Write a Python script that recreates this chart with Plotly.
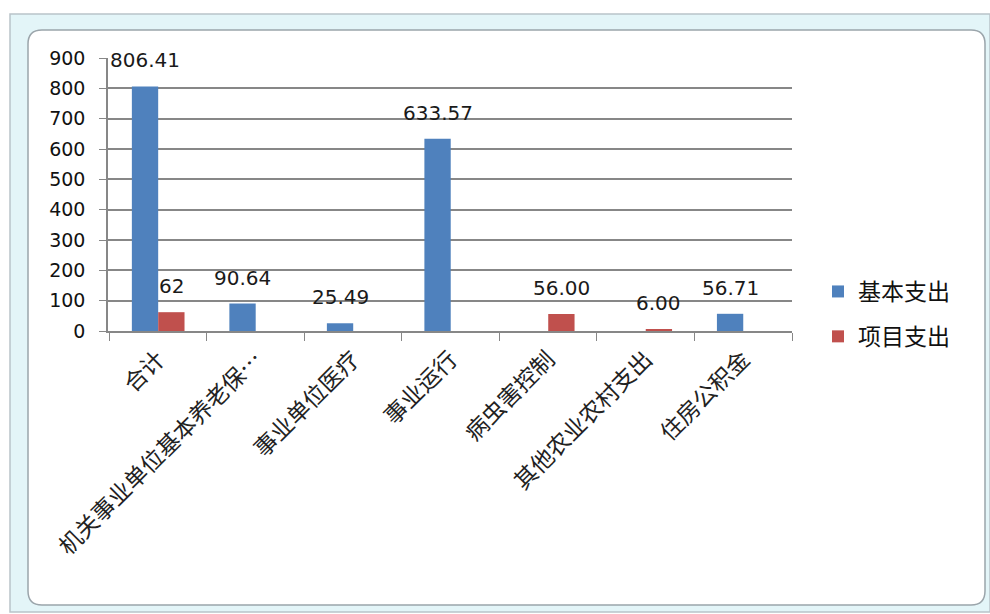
import plotly.graph_objects as go

categories = ["合计", "机关事业单位基本养老保…", "事业单位医疗", "事业运行", "病虫害控制", "其他农业农村支出", "住房公积金"]
basic = [806.41, 90.64, 25.49, 633.57, None, None, 56.71]
basic_text = ["806.41", "90.64", "25.49", "633.57", "", "", "56.71"]
project = [62, None, None, None, 56.00, 6.00, None]
project_text = ["62", "", "", "", "56.00", "6.00", ""]
y_ticks = [0, 100, 200, 300, 400, 500, 600, 700, 800, 900]

W, H = 990, 614
L, R, T, B = 108, 792, 58, 331
BARGAP = 0.46

def px(x):
    return (x - L) / (R - L)

def py(y):
    return (B - y) / (B - T)

fig = go.Figure()
fig.add_trace(go.Bar(
    name="基本支出", x=categories, y=basic,
    marker=dict(color="#4F81BD", line=dict(width=0)),
    legendgroup="a",
))
fig.add_trace(go.Bar(
    name="项目支出", x=categories, y=project,
    marker=dict(color="#C0504D", line=dict(width=0)),
    legendgroup="b",
))

# data labels placed above each bar (Excel "outside end" look)
bar_px = (R - L) / len(categories) * (1 - BARGAP) / 2
annotations = []
for vals, texts, sign in ((basic, basic_text, -1), (project, project_text, 1)):
    for c, v, t in zip(categories, vals, texts):
        if v is None:
            continue
        annotations.append(dict(
            x=c, y=v, xref="x", yref="y", text=t, showarrow=False,
            xanchor="center", yanchor="bottom", xshift=sign * bar_px / 2, yshift=12,
            font=dict(size=20, color="#1a1a1a", family="DejaVu Sans"),
        ))

# frame decorations (Excel chart-area look)
r = 14
x0, y0, x1, y1 = 28, 30, 985, 605
path = (f"M {px(x0+r)} {py(y0)} L {px(x1-r)} {py(y0)} Q {px(x1)} {py(y0)} {px(x1)} {py(y0+r)} "
        f"L {px(x1)} {py(y1-r)} Q {px(x1)} {py(y1)} {px(x1-r)} {py(y1)} "
        f"L {px(x0+r)} {py(y1)} Q {px(x0)} {py(y1)} {px(x0)} {py(y1-r)} "
        f"L {px(x0)} {py(y0+r)} Q {px(x0)} {py(y0)} {px(x0+r)} {py(y0)} Z")
shapes = [
    dict(type="rect", xref="paper", yref="paper", x0=px(10), x1=px(990), y0=py(14), y1=py(612),
         fillcolor="#e3f5f8", line=dict(color="#b9c3c9", width=1.5), layer="below"),
    dict(type="path", xref="paper", yref="paper", path=path,
         fillcolor="#ffffff", line=dict(color="#9ba5ab", width=1.5), layer="below"),
]

fig.update_layout(
    width=W, height=H,
    margin=dict(l=L, r=W - R, t=T, b=H - B),
    paper_bgcolor="#ffffff", plot_bgcolor="rgba(0,0,0,0)",
    barmode="group", bargap=BARGAP, bargroupgap=0,
    showlegend=True,
    legend=dict(x=px(818), y=py(314), xanchor="left", yanchor="middle",
                font=dict(size=23, color="#111111", family="Noto Sans CJK SC"),
                tracegroupgap=12, bgcolor="rgba(0,0,0,0)"),
    shapes=shapes,
    annotations=annotations,
    font=dict(family="Noto Sans CJK SC"),
)
fig.update_yaxes(
    range=[0, 900], tickvals=y_ticks, showgrid=True, gridcolor="#878787", gridwidth=1.5,
    showline=True, linecolor="#878787", linewidth=1.5, ticks="outside", ticklen=7,
    tickcolor="#878787", zeroline=False, ticklabelstandoff=10,
    tickfont=dict(size=19, color="#111111", family="DejaVu Sans"),
)
fig.update_xaxes(
    tickangle=-45, showline=True, linecolor="#878787", linewidth=1.5,
    ticks="outside", ticklen=8, tickcolor="#878787", tickson="boundaries",
    ticklabelstandoff=4,
    tickfont=dict(size=23, color="#222222", family="Noto Sans CJK SC"),
    showgrid=False,
)
fig.write_html("out.html", config={"displayModeBar": False},
               post_script="document.body.style.margin='0';document.body.style.overflow='hidden';")
